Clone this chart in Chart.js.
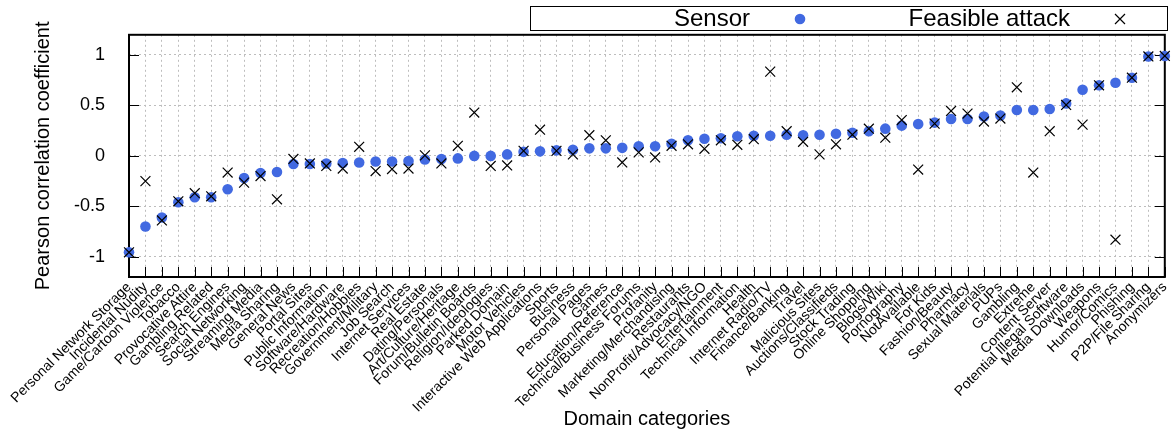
<!DOCTYPE html>
<html>
<head>
<meta charset="utf-8">
<script src="https://cdn.jsdelivr.net/npm/chart.js@4.4.1/dist/chart.umd.min.js"></script>
<style>
  html, body { margin: 0; padding: 0; background: #fff; }
  #chart { display: block; }
</style>
</head>
<body>
<canvas id="chart" width="1173" height="437"></canvas>
<script>
// data
const categories = [
    'Personal Network Storage', 'Incidental Nudity', 'Game/Cartoon Violence', 'Tobacco',
    'Provocative Attire', 'Gambling Related', 'Search Engines', 'Social Networking',
    'Streaming Media', 'Media Sharing', 'General News', 'Portal Sites',
    'Public Information', 'Software/Hardware', 'Recreation/Hobbies', 'Government/Military',
    'Job Search', 'Internet Services', 'Real Estate', 'Dating/Personals',
    'Art/Culture/Heritage', 'Forum/Bulletin Boards', 'Religion/Ideologies', 'Parked Domain',
    'Motor Vehicles', 'Interactive Web Applications', 'Sports', 'Business',
    'Personal Pages', 'Games', 'Education/Reference', 'Technical/Business Forums',
    'Profanity', 'Marketing/Merchandising', 'Restaurants', 'NonProfit/Advocacy/NGO',
    'Entertainment', 'Technical Information', 'Health', 'Internet Radio/TV',
    'Finance/Banking', 'Travel', 'Malicious Sites', 'Auctions/Classifieds',
    'Stock Trading', 'Online Shopping', 'Blogs/Wiki', 'Pornography',
    'NotAvailable', 'For Kids', 'Fashion/Beauty', 'Pharmacy',
    'Sexual Materials', 'PUPs', 'Gambling', 'Extreme',
    'Content Server', 'Potential Illegal Software', 'Media Downloads', 'Weapons',
    'Humor/Comics', 'Phishing', 'P2P/File Sharing', 'Anonymizers'
];

const sensorValues = [
    -0.955, -0.70, -0.61, -0.46, -0.41, -0.41, -0.33, -0.22,
    -0.17, -0.16, -0.08, -0.08, -0.075, -0.07, -0.065, -0.055,
    -0.055, -0.05, -0.035, -0.03, -0.025, 0.0, 0.0, 0.015,
    0.04, 0.045, 0.055, 0.06, 0.075, 0.075, 0.08, 0.095,
    0.095, 0.12, 0.155, 0.17, 0.175, 0.195, 0.20, 0.20,
    0.21, 0.205, 0.21, 0.22, 0.23, 0.245, 0.27, 0.30,
    0.315, 0.33, 0.365, 0.365, 0.39, 0.40, 0.455, 0.455,
    0.465, 0.52, 0.655, 0.70, 0.725, 0.775, 0.985, 0.99
];

const attackValues = [
    -0.955, -0.25, -0.64, -0.45, -0.37, -0.40, -0.165, -0.265,
    -0.20, -0.43, -0.03, -0.075, -0.10, -0.125, 0.09, -0.15,
    -0.13, -0.125, 0.005, -0.075, 0.10, 0.43, -0.10, -0.095,
    0.05, 0.26, 0.05, 0.015, 0.205, 0.155, -0.065, 0.035,
    -0.015, 0.10, 0.115, 0.07, 0.155, 0.11, 0.165, 0.835,
    0.245, 0.14, 0.015, 0.115, 0.21, 0.27, 0.18, 0.355,
    -0.135, 0.32, 0.445, 0.42, 0.34, 0.37, 0.68, -0.165,
    0.245, 0.505, 0.31, 0.70, -0.83, 0.775, 0.985, 0.99
];

const yTickValues = [-1, -0.5, 0, 0.5, 1];

const BLUE = '#4169e1';
const FONT = "'Liberation Sans', Arial, Helvetica, sans-serif";

Chart.defaults.font.family = FONT;
Chart.defaults.color = '#000';

// gnuplot style frame, inward ticks and legend box
const framePlugin = {
    id: 'frame',
    beforeDatasetsDraw(chart) {
        const { ctx, chartArea: a, scales } = chart;
        ctx.save();
        ctx.strokeStyle = '#000';
        ctx.lineWidth = 1;
        // ticks pointing inward
        ctx.beginPath();
        categories.forEach((c, i) => {
            const x = Math.round(scales.x.getPixelForValue(i)) + 0.5;
            ctx.moveTo(x, a.bottom);
            ctx.lineTo(x, a.bottom - 10);
        });
        yTickValues.forEach(v => {
            const y = Math.round(scales.y.getPixelForValue(v)) + 0.5;
            ctx.moveTo(a.left, y);
            ctx.lineTo(a.left + 10, y);
            ctx.moveTo(a.right, y);
            ctx.lineTo(a.right - 10, y);
        });
        ctx.stroke();
        ctx.lineWidth = 2;
        ctx.strokeRect(a.left, a.top, a.right - a.left, a.bottom - a.top);
        ctx.restore();
    },
    afterDraw(chart) {
        const ctx = chart.ctx;
        ctx.save();
        ctx.fillStyle = '#fff';
        ctx.fillRect(531, 6, 637, 25);
        ctx.strokeStyle = '#000';
        ctx.lineWidth = 1;
        ctx.strokeRect(530.5, 6.5, 637, 24);
        ctx.fillStyle = '#000';
        ctx.font = '24px ' + FONT;
        ctx.textAlign = 'right';
        ctx.textBaseline = 'middle';
        ctx.fillText('Sensor', 750, 19);
        ctx.fillText('Feasible attack', 1070, 19);
        ctx.fillStyle = BLUE;
        ctx.beginPath();
        ctx.arc(800, 19, 5.3, 0, Math.PI * 2);
        ctx.fill();
        ctx.strokeStyle = '#000';
        ctx.lineWidth = 1.2;
        ctx.beginPath();
        ctx.moveTo(1115, 14); ctx.lineTo(1125, 24);
        ctx.moveTo(1125, 14); ctx.lineTo(1115, 24);
        ctx.stroke();
        ctx.restore();
    }
};

const ctx = document.getElementById('chart').getContext('2d');
const chart = new Chart(ctx, {
    type: 'line',
    data: {
        labels: categories,
        datasets: [{
            label: 'Sensor',
            data: sensorValues,
            showLine: false,
            pointStyle: 'circle',
            pointRadius: 5.3,
            pointBackgroundColor: BLUE,
            pointBorderWidth: 0,
            clip: false,
            order: 2
        }, {
            label: 'Feasible attack',
            data: attackValues,
            showLine: false,
            pointStyle: 'crossRot',
            pointRadius: 7,
            pointBorderColor: '#000',
            pointBorderWidth: 1.2,
            clip: false,
            order: 1
        }]
    },
    options: {
        responsive: false,
        animation: false,
        layout: { padding: { left: 31, right: 3, top: 34, bottom: 0 } },
        plugins: {
            legend: { display: false },
            tooltip: { enabled: false }
        },
        scales: {
            x: {
                type: 'category',
                offset: false,
                grid: { color: '#bdbdbd', lineWidth: 1, drawTicks: false },
                border: { display: false, dash: [2, 3] },
                ticks: {
                    autoSkip: false,
                    minRotation: 45,
                    maxRotation: 45,
                    padding: 2,
                    font: { size: 14 },
                    color: '#000'
                },
                title: {
                    display: true,
                    text: 'Domain categories',
                    font: { size: 20 },
                    color: '#000',
                    padding: { top: 0, bottom: 6 }
                },
                afterFit(s) {
                    s.height = 160;
                    s.paddingLeft = 0;
                    s.paddingRight = 0;
                }
            },
            y: {
                min: -1.2,
                max: 1.2,
                afterBuildTicks(s) {
                    s.ticks = yTickValues.map(v => ({ value: v }));
                },
                grid: { color: '#bdbdbd', lineWidth: 1, drawTicks: false },
                border: { display: false, dash: [2, 3] },
                ticks: {
                    callback: v => String(v),
                    padding: 24,
                    font: { size: 18 },
                    color: '#000'
                },
                title: {
                    display: true,
                    text: 'Pearson correlation coefficient',
                    font: { size: 20 },
                    color: '#000',
                    padding: { top: 0, bottom: 0 }
                },
                afterFit(s) {
                    s.width = 98;
                }
            }
        }
    },
    plugins: [framePlugin]
});
</script>
</body>
</html>
